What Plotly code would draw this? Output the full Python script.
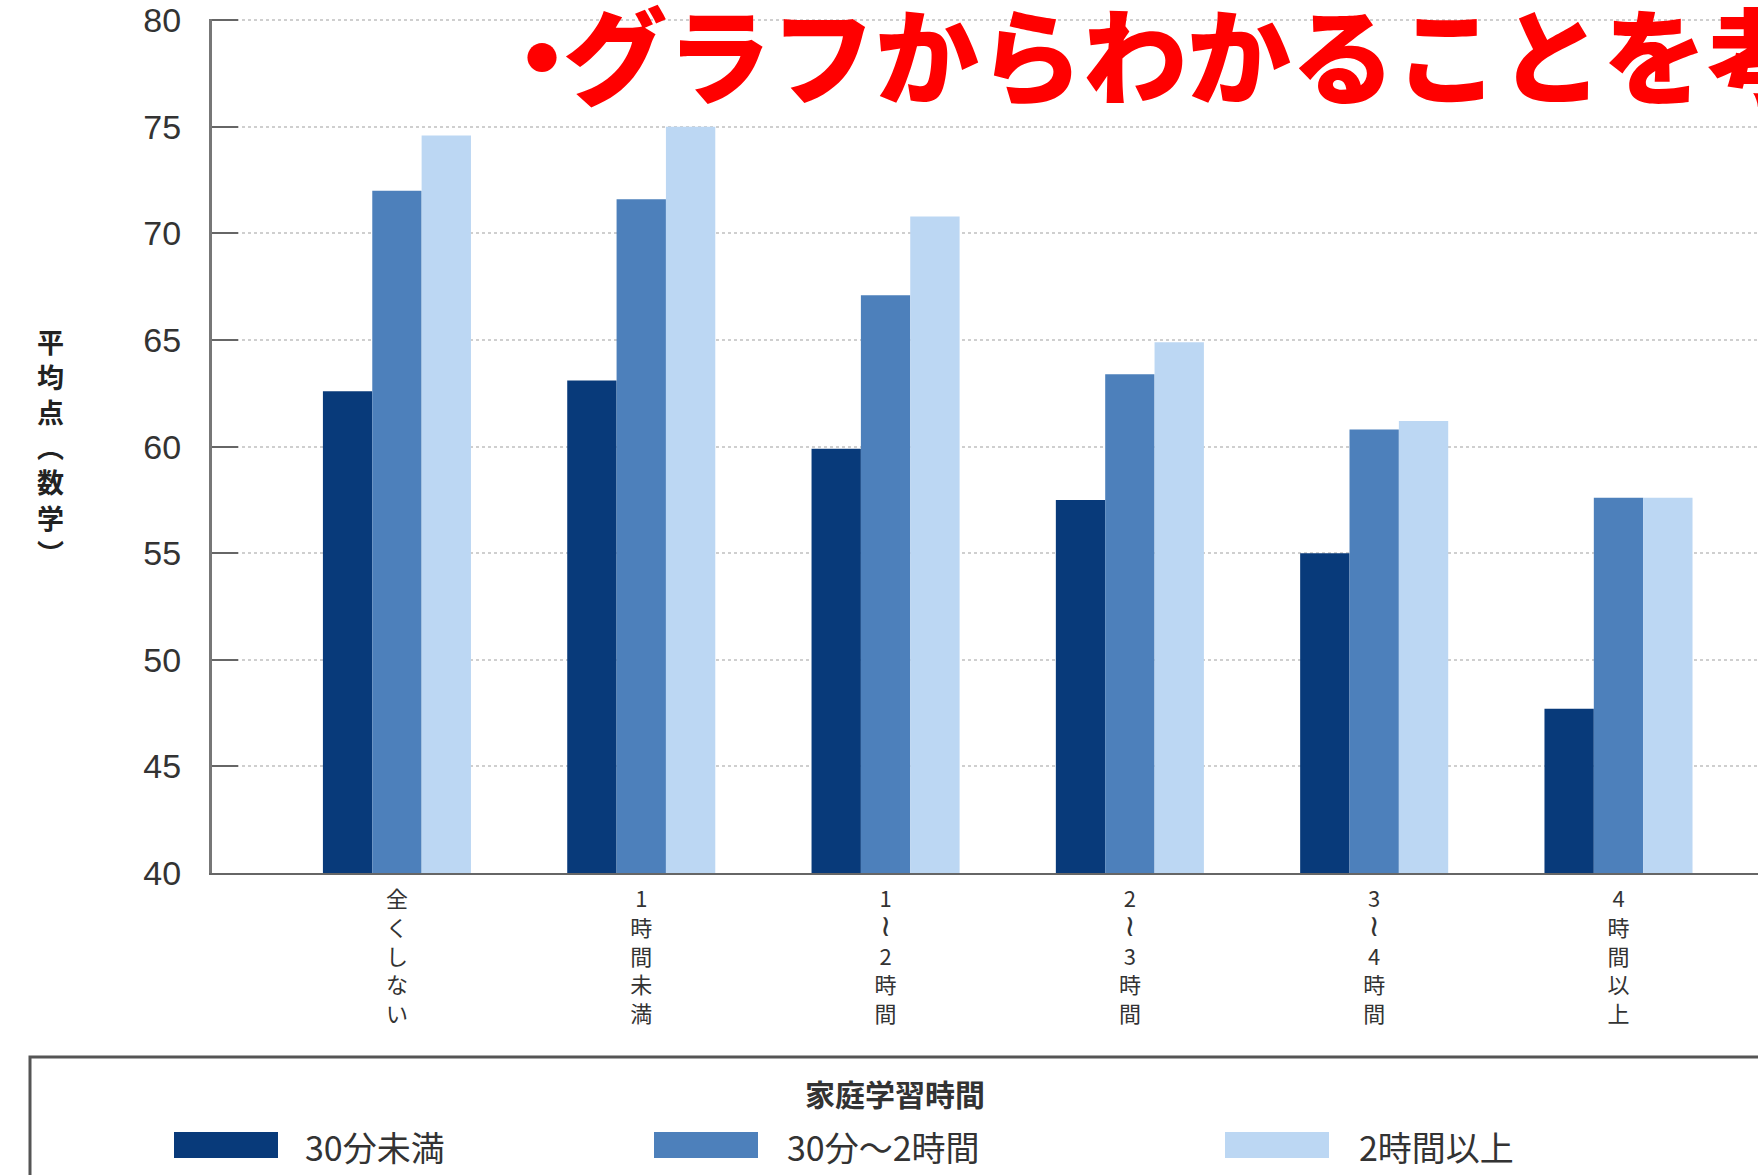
import plotly.graph_objects as go

categories = ["全くしない", "1時間未満", "1〜2時間", "2〜3時間", "3〜4時間", "4時間以上"]
WAVE = "<span style='font-family:DejaVu Sans;font-size:30px'>≀</span>"
tick_labels = [
    "全<br>く<br>し<br>な<br>い",
    "1<br>時<br>間<br>未<br>満",
    "1<br>" + WAVE + "<br>2<br>時<br>間",
    "2<br>" + WAVE + "<br>3<br>時<br>間",
    "3<br>" + WAVE + "<br>4<br>時<br>間",
    "4<br>時<br>間<br>以<br>上",
]
series_names = ["30分未満", "30分〜2時間", "2時間以上"]
under_30min = [62.6, 63.1, 59.9, 57.5, 55.0, 47.7]
min30_to_2h = [72.0, 71.6, 67.1, 63.4, 60.8, 57.6]
over_2h = [74.6, 75.0, 70.8, 64.9, 61.2, 57.6]
colors = ["#083a7a", "#4d80bb", "#bcd7f3"]

title_text = "<span style='letter-spacing:-31px'>・</span>グラフからわかることを考"
y_title = "平<br>均<br>点<br>︵<br>数<br>学<br>︶"
legend_title = "家庭学習時間"

W, H = 1758, 1175
L, R, T, B = 212, 0, 19, 1175 - 873
PW = W - L - R
PH = H - T - B

def px(xs):
    return (xs - L) / PW

def py(ys):
    return (H - B - ys) / PH

fig = go.Figure()
for name, vals, col in zip(series_names, [under_30min, min30_to_2h, over_2h], colors):
    fig.add_trace(go.Bar(x=list(range(len(categories))), y=vals, name=name,
                         marker=dict(color=col, line=dict(width=0)), showlegend=False))

fig.update_layout(
    width=W, height=H,
    margin=dict(l=L, r=R, t=T, b=B, pad=0),
    paper_bgcolor="white", plot_bgcolor="white",
    barmode="group", bargap=0.394, bargroupgap=0,
    font=dict(family="Noto Sans CJK JP", color="#333333"),
)
fig.update_xaxes(
    range=[-0.757, 5.571], tickmode="array",
    tickvals=list(range(len(categories))), ticktext=tick_labels,
    showline=True, linecolor="#666666", linewidth=2, ticks="",
    showgrid=False, zeroline=False,
    tickfont=dict(family="Noto Sans CJK JP", size=22, color="#333333"),
    ticklabelstandoff=6, ticklabeloverflow="allow",
)
fig.update_yaxes(
    range=[40, 80.06], tickmode="array", tickvals=[40, 45, 50, 55, 60, 65, 70, 75, 80],
    showline=True, linecolor="#777777", linewidth=3,
    ticks="inside", ticklen=26, tickwidth=2, tickcolor="#666666",
    showgrid=True, gridcolor="#cfcfcf", gridwidth=2, griddash="dot",
    zeroline=False,
    tickfont=dict(family="Liberation Sans", size=34, color="#333333"),
    ticklabelstandoff=21, ticklabeloverflow="allow",
)

title_font = dict(family="Noto Sans CJK JP", size=104, color="#ff0000", weight=900)
annotations = []
annotations.append(dict(text=title_text, xref="paper", yref="paper",
                        x=px(488), y=py(51), xanchor="left", yanchor="middle",
                        showarrow=False, font=title_font))
annotations.append(dict(text=y_title, xref="paper", yref="paper",
                        x=px(50), y=py(447), xanchor="center", yanchor="middle",
                        showarrow=False,
                        font=dict(family="Noto Sans CJK JP", size=27, color="#222222", weight=700)))
annotations.append(dict(text=legend_title, xref="paper", yref="paper",
                        x=px(895), y=py(1093), xanchor="center", yanchor="middle",
                        showarrow=False,
                        font=dict(family="Noto Sans CJK JP", size=30, color="#333333", weight=700)))

shapes = []
shapes.append(dict(type="rect", xref="paper", yref="paper",
                   x0=px(30), x1=px(1785), y0=py(1057), y1=py(1200),
                   line=dict(color="#555555", width=3), fillcolor="rgba(0,0,0,0)"))
sw_x = [174, 654, 1225]
tx_x = [303, 785, 1357]
for name, col, sx, tx in zip(series_names, colors, sw_x, tx_x):
    shapes.append(dict(type="rect", xref="paper", yref="paper",
                       x0=px(sx), x1=px(sx + 104), y0=py(1132), y1=py(1158),
                       line=dict(width=0), fillcolor=col))
    annotations.append(dict(text=name, xref="paper", yref="paper",
                            x=px(tx), y=py(1146), xanchor="left", yanchor="middle",
                            showarrow=False,
                            font=dict(family="Noto Sans CJK JP", size=34, color="#333333")))

fig.update_layout(annotations=annotations, shapes=shapes)
fig.write_html("out.html", config={"displayModeBar": False},
               post_script="document.body.style.margin='0px';")
